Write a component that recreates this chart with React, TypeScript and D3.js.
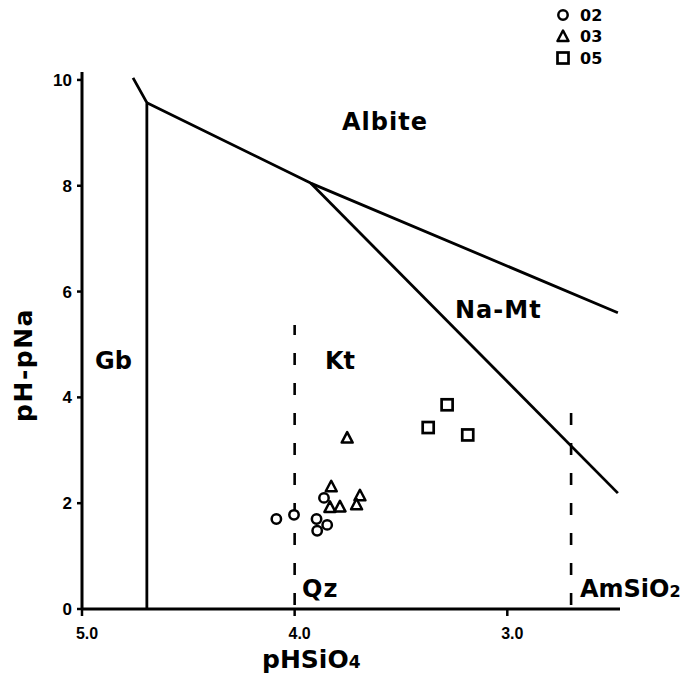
import React from "react";
import * as d3 from "d3";

// Stability boundaries in pHSiO4 / pH-pNa space
const gbBoundary: [number, number][] = [[4.76, 10.04], [4.695, 9.57], [4.695, 0]];
const albiteBoundary: [number, number][] = [[4.695, 9.57], [3.925, 8.05], [2.48, 5.6]];
const naMtBoundary: [number, number][] = [[3.925, 8.05], [2.48, 2.19]];
const qzSaturation: [number, number][] = [[4.0, 0], [4.0, 5.37]];
const amSiO2Saturation: [number, number][] = [[2.7, 0], [2.7, 4.0]];

// Water samples by group
const samples02: [number, number][] = [
  [4.086, 1.7], [4.003, 1.78], [3.862, 2.1], [3.897, 1.7], [3.847, 1.59], [3.894, 1.48],
];
const samples03: [number, number][] = [
  [3.753, 3.23], [3.828, 2.31], [3.834, 1.92], [3.787, 1.93], [3.693, 2.14], [3.709, 1.97],
];
const samples05: [number, number][] = [
  [3.283, 3.86], [3.372, 3.43], [3.186, 3.29],
];

const xTicks = [5.0, 4.0, 3.0];
const yTicks = [0, 2, 4, 6, 8, 10];
const legendItems = ["02", "03", "05"];

const W = 692;
const H = 678;
const labelFont = "'DejaVu Sans', sans-serif";
const tickFont = "'Liberation Sans', Arial, sans-serif";

export default function App() {
  const x = d3.scaleLinear().domain([5.0, 2.47]).range([82, 620]);
  const y = d3.scaleLinear().domain([0, 10.15]).range([609, 72]);
  const line = d3.line<[number, number]>().x((d) => x(d[0])).y((d) => y(d[1]));

  const circle = (cx: number, cy: number, k: string) => (
    <circle key={k} cx={cx} cy={cy} r={4.7} fill="white" stroke="black" strokeWidth={2.5} />
  );
  const triangle = (cx: number, cy: number, k: string) => (
    <path
      key={k}
      d={`M${cx},${cy - 6}L${cx + 5.5},${cy + 4.5}L${cx - 5.5},${cy + 4.5}Z`}
      fill="white"
      stroke="black"
      strokeWidth={2.5}
      strokeLinejoin="round"
    />
  );
  const square = (cx: number, cy: number, k: string) => (
    <rect key={k} x={cx - 5.5} y={cy - 5.5} width={11} height={11} fill="white" stroke="black" strokeWidth={2.7} />
  );
  const markers = [circle, triangle, square];

  return (
    <svg width={W} height={H} style={{ position: "absolute", left: 0, top: 0, background: "white" }}>
      <rect width={W} height={H} fill="white" />

      {/* axes */}
      <line x1={x(5.0)} x2={x(2.47)} y1={y(0)} y2={y(0)} stroke="black" strokeWidth={3} />
      <line x1={x(5.0)} x2={x(5.0)} y1={y(0)} y2={y(10.15)} stroke="black" strokeWidth={3} />
      {xTicks.map((t) => (
        <g key={`xt${t}`}>
          <line x1={x(t)} x2={x(t)} y1={y(0)} y2={y(0) + 7} stroke="black" strokeWidth={2.5} />
          <text
            x={x(t) + 5}
            y={y(0) + 30}
            textAnchor="middle"
            fontFamily={tickFont}
            fontWeight="bold"
            fontSize={16}
          >
            {t.toFixed(1)}
          </text>
        </g>
      ))}
      {yTicks.map((t) => (
        <g key={`yt${t}`}>
          <line x1={x(5.0) - 5} x2={x(5.0)} y1={y(t)} y2={y(t)} stroke="black" strokeWidth={2.5} />
          <text
            x={x(5.0) - 10}
            y={y(t)}
            dy="0.36em"
            textAnchor="end"
            fontFamily={tickFont}
            fontWeight="bold"
            fontSize={17}
          >
            {t}
          </text>
        </g>
      ))}

      {/* axis titles */}
      <text x={262} y={668} fontFamily={labelFont} fontWeight="bold" fontSize={25}>
        pHSiO<tspan fontSize={17}>4</tspan>
      </text>
      <text
        transform="translate(32,365) rotate(-90)"
        textAnchor="middle"
        fontFamily={labelFont}
        fontWeight="bold"
        fontSize={25}
        letterSpacing={1.5}
      >
        pH-pNa
      </text>

      {/* phase boundaries */}
      <path d={line(gbBoundary) ?? ""} fill="none" stroke="black" strokeWidth={2.8} strokeLinejoin="round" />
      <path d={line(albiteBoundary) ?? ""} fill="none" stroke="black" strokeWidth={2.8} strokeLinejoin="round" />
      <path d={line(naMtBoundary) ?? ""} fill="none" stroke="black" strokeWidth={2.8} />
      <path d={line(qzSaturation) ?? ""} fill="none" stroke="black" strokeWidth={2.6} strokeDasharray="12 18" strokeDashoffset={-4} />
      <path d={line(amSiO2Saturation) ?? ""} fill="none" stroke="black" strokeWidth={2.6} strokeDasharray="12 18" strokeDashoffset={-4} />

      {/* field labels */}
      <g fontFamily={labelFont} fontWeight="bold" fontSize={24}>
        <text x={342} y={130} letterSpacing={1}>Albite</text>
        <text x={455} y={318} letterSpacing={1}>Na-Mt</text>
        <text x={95} y={369}>Gb</text>
        <text x={325} y={369}>Kt</text>
        <text x={302} y={597} letterSpacing={1}>Qz</text>
        <text x={580} y={597}>
          AmSiO<tspan fontSize={16}>2</tspan>
        </text>
      </g>

      {/* samples */}
      {samples02.map((d, i) => circle(x(d[0]), y(d[1]), `c${i}`))}
      {samples03.map((d, i) => triangle(x(d[0]), y(d[1]), `t${i}`))}
      {samples05.map((d, i) => square(x(d[0]), y(d[1]), `s${i}`))}

      {/* legend */}
      {legendItems.map((lab, i) => {
        const ly = 15 + i * 21.5;
        return (
          <g key={lab}>
            {markers[i](563, ly, `l${i}`)}
            <text x={580} y={ly} dy="0.36em" fontFamily={labelFont} fontWeight="bold" fontSize={16}>
              {lab}
            </text>
          </g>
        );
      })}
    </svg>
  );
}
